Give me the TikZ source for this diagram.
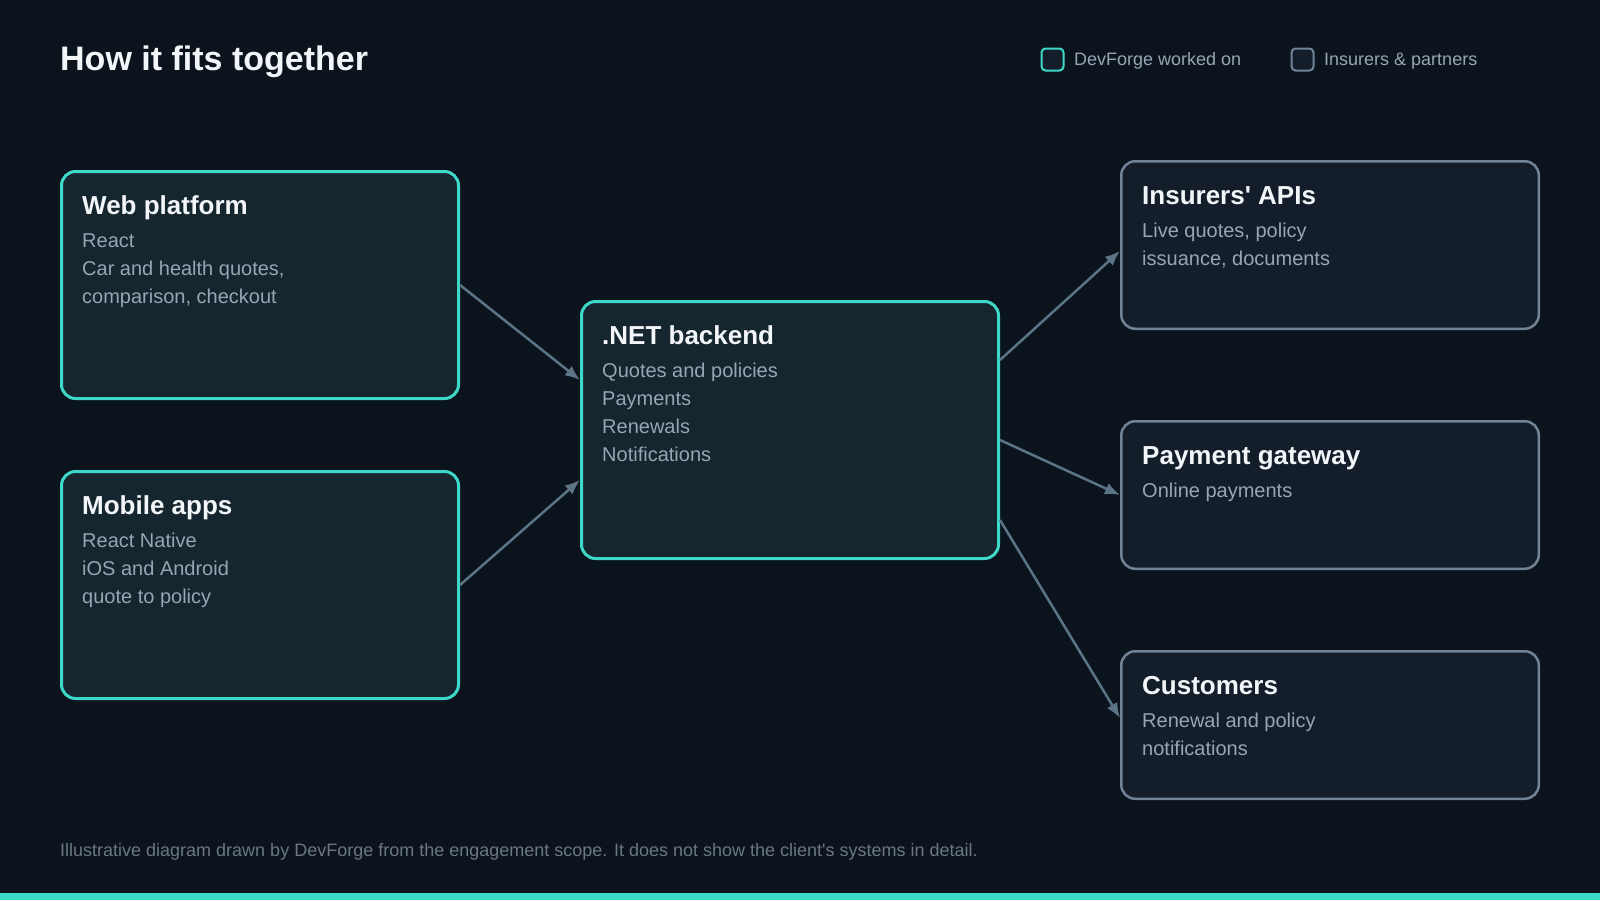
\documentclass[tikz,border=0pt]{standalone}
\usepackage{fontspec}
\setmainfont{Liberation Sans}
\usetikzlibrary{arrows.meta}

\definecolor{pagebg}{HTML}{0B131D}
\definecolor{accent}{HTML}{3ED8C8}
\definecolor{accentfill}{HTML}{15262F}
\definecolor{partnerline}{HTML}{718396}
\definecolor{partnerfill}{HTML}{141E2B}
\definecolor{linkgray}{HTML}{5B7486}
\definecolor{headwhite}{HTML}{F3F6F8}
\definecolor{bodygray}{HTML}{97A5B4}
\definecolor{notegray}{HTML}{6B7785}

\tikzset{
  devbox/.style={draw=accent, fill=accentfill, line width=3pt, rounded corners=14pt,
    anchor=north west, inner sep=0pt, minimum width=#1},
  extbox/.style={draw=partnerline, fill=partnerfill, line width=2.5pt, rounded corners=14pt,
    anchor=north west, inner sep=0pt, minimum width=#1},
  boxhead/.style={anchor=base west, inner sep=0pt, text=headwhite,
    font=\fontsize{26}{30}\selectfont\bfseries},
  boxbody/.style={anchor=north west, inner sep=0pt, align=left, text=bodygray,
    font=\fontsize{20}{28}\selectfont},
  keybox/.style={draw=#1, fill=partnerfill, line width=2pt, rounded corners=4pt,
    minimum size=22pt, inner sep=0pt},
  keytext/.style={anchor=base west, inner sep=0pt, text=bodygray,
    font=\fontsize{18}{22}\selectfont},
  link/.style={draw=linkgray, line width=2.5pt, -{Latex[length=15pt,width=12pt]}}
}

\begin{document}
\begin{tikzpicture}[x=1pt,y=-1pt]
\fill[pagebg] (0,0) rectangle (1600,900);
\useasboundingbox (0,0) rectangle (1600,900);
\fill[accent] (0,893) rectangle (1600,900);
%
\node[anchor=base west, inner sep=0pt, text=headwhite, font=\fontsize{34}{40}\selectfont\bfseries]
  (heading) at (60,70) {How it fits together};
\node[keybox=accent] (keydev) at (1052.5,59.5) {};
\node[keytext] (keydevtxt) at (1074,65) {DevForge worked on};
\node[keybox=partnerline] (keyext) at (1302.5,59.5) {};
\node[keytext] (keyexttxt) at (1324,65) {Insurers \& partners};
%
\node[devbox=397pt, minimum height=227pt] (web) at (60,170) {};
\node[boxhead] (webhead) at (82,214) {Web platform};
\node[boxbody] (webbody) at (82,227.4) {\strut React\\Car and health quotes,\\comparison, checkout};
%
\node[devbox=397pt, minimum height=227pt] (mobile) at (60,470) {};
\node[boxhead] (mobilehead) at (82,514) {Mobile apps};
\node[boxbody] (mobilebody) at (82,527.4) {\strut React Native\\iOS and Android\\quote to policy};
%
\node[devbox=417pt, minimum height=257pt] (backend) at (580,300) {};
\node[boxhead] (backendhead) at (602,344) {.NET backend};
\node[boxbody] (backendbody) at (602,357.4) {\strut Quotes and policies\\Payments\\Renewals\\Notifications};
%
\node[extbox=417.5pt, minimum height=167.5pt] (insurers) at (1120,160) {};
\node[boxhead] (insurershead) at (1142,204) {Insurers\textquotesingle{} APIs};
\node[boxbody] (insurersbody) at (1142,217.4) {\strut Live quotes, policy\\issuance, documents};
%
\node[extbox=417.5pt, minimum height=147.5pt] (payment) at (1120,420) {};
\node[boxhead] (paymenthead) at (1142,464) {Payment gateway};
\node[boxbody] (paymentbody) at (1142,477.4) {\strut Online payments};
%
\node[extbox=417.5pt, minimum height=147.5pt] (customers) at (1120,650) {};
\node[boxhead] (customershead) at (1142,694) {Customers};
\node[boxbody] (customersbody) at (1142,707.4) {\strut Renewal and policy\\notifications};
%
\draw[link] (web.east) -- ([yshift=50pt]backend.west);
\draw[link] (mobile.east) -- ([yshift=-50pt]backend.west);
\draw[link] ([yshift=70pt]backend.east) -- ([yshift=-6pt]insurers.west);
\draw[link] ([yshift=-10pt]backend.east) -- (payment.west);
\draw[link] ([yshift=-90pt]backend.east) -- ([yshift=7pt]customers.west);
%
\node[anchor=base west, inner sep=0pt, text=notegray, font=\fontsize{18}{22}\selectfont]
  (footnote) at (60,856) {Illustrative diagram drawn by DevForge from the engagement scope. It does not show the client\textquotesingle s systems in detail.};
\end{tikzpicture}
\end{document}
